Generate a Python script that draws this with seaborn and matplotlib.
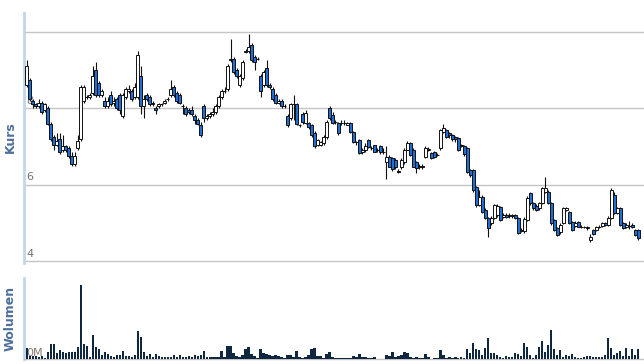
import matplotlib
matplotlib.use("Agg")
import matplotlib.pyplot as plt
import matplotlib.transforms as mtransforms
import numpy as np
import pandas as pd
import seaborn as sns

# ---------------- data ----------------
opens = [
    8.6, 8.75, 8.2, 8.1, 8.05, 8.15, 7.95, 8.0, 7.6, 7.25,
    7.05, 7.2, 6.9, 7.0, 6.95, 6.75, 6.55, 6.95, 7.2, 8.2,
    8.3, 8.3, 8.4, 9.0, 8.65, 8.35, 8.2, 8.05, 8.35, 8.15,
    8.25, 8.35, 7.8, 8.3, 8.45, 8.45, 8.3, 8.3, 8.85, 8.05,
    8.35, 8.3, 8.1, 8.0, 8.05, 8.1, 8.15, 8.25, 8.35, 8.55,
    8.4, 8.35, 8.05, 8.0, 7.95, 7.95, 7.8, 7.7, 7.55, 8.05,
    7.75, 7.8, 7.85, 7.9, 8.05, 8.3, 8.45, 8.5, 9.25, 9.3,
    9.0, 8.6, 8.8, 9.48, 9.5, 9.65, 9.35, 9.3, 8.85, 8.6,
    9.05, 8.6, 8.5, 8.35, 8.15, 8.2, 8.05, 7.8, 7.75, 8.1,
    8.1, 7.57, 7.85, 7.62, 7.62, 7.55, 7.35, 7.04, 7.05, 7.1,
    7.25, 8.0, 7.83, 7.64, 7.62, 7.62, 7.62, 7.57, 7.62, 7.38,
    7.12, 7.17, 6.85, 6.9, 7.17, 6.96, 7.04, 6.91, 7.0, 6.86,
    6.6, 6.73, 6.7, 6.65, 6.35, 6.45, 6.6, 6.91, 7.09, 6.91,
    6.6, 6.47, 6.5, 6.73, 6.9, 6.83, 6.85, 6.78, 6.96, 7.38,
    7.43, 7.35, 7.3, 7.25, 7.22, 7.04, 7.0, 6.96, 6.38, 6.39,
    5.94, 5.47, 5.68, 5.34, 5.13, 5.0, 5.13, 5.2, 5.42, 5.15,
    5.21, 5.2, 5.18, 5.2, 5.13, 4.8, 4.78, 5.08, 5.79, 5.52,
    5.45, 5.39, 5.52, 5.8, 5.81, 5.52, 5.08, 4.87, 4.75, 5.0,
    5.35, 5.29, 5.03, 4.92, 5.03, 4.9, 4.9, 4.88, 4.55, 4.82,
    4.82, 4.9, 4.92, 5.0, 4.95, 5.13, 5.73, 5.26, 5.39, 5.0,
    4.9, 4.92, 4.95, 4.82, 4.82,
]
highs = [
    9.25, 8.8, 8.25, 8.15, 8.25, 8.2, 8.15, 8.05, 7.65, 7.3,
    7.35, 7.35, 7.3, 7.05, 7.0, 6.85, 6.85, 7.3, 8.6, 8.6,
    8.35, 8.4, 9.1, 9.2, 8.7, 8.5, 8.3, 8.3, 8.45, 8.3,
    8.3, 8.4, 8.4, 8.55, 8.6, 8.5, 8.65, 9.5, 9.1, 8.35,
    8.4, 8.35, 8.2, 8.05, 8.15, 8.15, 8.25, 8.3, 8.75, 8.6,
    8.45, 8.4, 8.1, 8.05, 8.0, 8.05, 7.85, 7.75, 7.65, 8.1,
    7.85, 7.9, 8.0, 8.1, 8.35, 8.5, 8.55, 9.15, 9.8, 9.35,
    9.05, 8.9, 9.25, 9.55, 9.95, 9.7, 9.4, 9.35, 8.9, 9.0,
    9.27, 8.65, 8.55, 8.4, 8.25, 8.25, 8.1, 7.85, 8.15, 8.35,
    8.15, 7.6, 7.9, 7.95, 7.65, 7.6, 7.4, 7.2, 7.15, 7.3,
    7.7, 8.05, 7.9, 7.7, 7.65, 7.7, 7.7, 7.65, 7.65, 7.4,
    7.15, 7.2, 6.95, 7.1, 7.2, 7.0, 7.05, 6.95, 7.05, 6.95,
    7.0, 6.78, 6.72, 6.7, 6.4, 6.7, 6.95, 7.15, 7.12, 6.95,
    6.62, 6.55, 6.55, 7.0, 6.98, 6.85, 6.88, 6.82, 7.45, 7.59,
    7.46, 7.38, 7.33, 7.28, 7.25, 7.06, 7.05, 6.98, 6.42, 6.42,
    5.97, 5.85, 5.72, 5.38, 5.16, 5.18, 5.5, 5.5, 5.45, 5.25,
    5.25, 5.25, 5.24, 5.24, 5.16, 4.86, 5.15, 5.7, 5.82, 5.55,
    5.5, 5.55, 5.95, 6.2, 5.85, 5.55, 5.1, 4.9, 5.0, 5.42,
    5.42, 5.32, 5.05, 5.05, 5.06, 4.95, 4.93, 4.92, 4.7, 4.85,
    4.93, 4.95, 5.03, 5.03, 5.18, 5.92, 5.8, 5.42, 5.42, 5.02,
    5.0, 5.05, 5.0, 4.85, 4.85,
]
lows = [
    8.55, 8.2, 8.0, 8.0, 8.0, 7.85, 7.9, 7.55, 7.15, 6.9,
    7.0, 6.8, 6.85, 6.85, 6.7, 6.5, 6.5, 6.9, 7.15, 8.15,
    8.25, 8.25, 8.35, 8.3, 8.3, 8.3, 8.0, 8.0, 8.05, 8.05,
    7.95, 7.85, 7.75, 8.25, 8.4, 8.2, 8.25, 8.25, 7.85, 7.75,
    8.2, 8.05, 8.05, 7.85, 8.0, 8.05, 8.1, 8.2, 8.3, 8.3,
    8.15, 8.1, 7.85, 7.8, 7.85, 7.8, 7.6, 7.55, 7.25, 7.65,
    7.7, 7.75, 7.8, 7.85, 8.0, 8.25, 8.4, 8.45, 9.2, 8.9,
    8.8, 8.55, 8.75, 9.45, 9.45, 9.2, 9.0, 9.25, 8.3, 8.55,
    8.55, 8.5, 8.2, 8.1, 8.1, 8.0, 8.0, 7.5, 7.7, 7.7,
    7.55, 7.5, 7.6, 7.6, 7.45, 7.25, 6.95, 7.0, 7.0, 7.05,
    7.2, 7.7, 7.6, 7.6, 7.3, 7.55, 7.55, 7.55, 7.35, 7.1,
    7.05, 6.8, 6.8, 6.85, 6.95, 6.9, 6.85, 6.85, 6.8, 6.8,
    6.15, 6.45, 6.35, 6.4, 6.3, 6.4, 6.55, 6.9, 6.75, 6.45,
    6.31, 6.42, 6.42, 6.7, 6.88, 6.68, 6.7, 6.74, 6.92, 7.35,
    7.22, 7.22, 7.15, 7.12, 6.88, 6.98, 6.75, 6.3, 6.2, 5.8,
    5.42, 5.44, 5.25, 5.1, 4.63, 4.95, 5.1, 5.15, 5.05, 5.12,
    5.12, 5.12, 5.13, 5.1, 4.7, 4.76, 4.74, 5.05, 5.48, 5.35,
    5.3, 5.35, 5.5, 5.78, 5.5, 4.95, 4.8, 4.65, 4.72, 4.98,
    5.3, 4.98, 4.8, 4.9, 4.88, 4.86, 4.87, 4.82, 4.5, 4.68,
    4.8, 4.87, 4.9, 4.93, 4.93, 5.1, 5.22, 5.22, 4.92, 4.85,
    4.87, 4.85, 4.87, 4.66, 4.55,
]
closes = [
    9.1, 8.25, 8.1, 8.05, 8.15, 7.9, 8.1, 7.6, 7.2, 7.05,
    7.15, 6.85, 7.0, 6.9, 6.75, 6.55, 6.75, 7.15, 8.55, 8.55,
    8.3, 8.35, 8.85, 8.35, 8.35, 8.45, 8.05, 8.2, 8.1, 8.2,
    8.0, 7.95, 8.35, 8.5, 8.5, 8.25, 8.55, 9.4, 8.05, 8.25,
    8.25, 8.1, 8.15, 7.95, 8.1, 8.1, 8.2, 8.25, 8.5, 8.35,
    8.2, 8.15, 8.05, 7.85, 7.9, 7.85, 7.7, 7.6, 7.3, 7.75,
    7.8, 7.85, 7.9, 8.05, 8.3, 8.45, 8.45, 9.1, 9.3, 8.95,
    8.85, 8.85, 9.2, 9.5, 9.6, 9.25, 9.2, 9.3, 8.45, 8.95,
    8.6, 8.55, 8.25, 8.15, 8.2, 8.05, 8.05, 7.55, 8.1, 8.1,
    7.6, 7.57, 7.65, 7.88, 7.5, 7.3, 7.0, 7.17, 7.12, 7.25,
    7.65, 7.75, 7.62, 7.64, 7.36, 7.62, 7.62, 7.62, 7.38, 7.12,
    7.12, 6.83, 6.9, 7.0, 6.99, 6.96, 6.86, 6.91, 6.86, 6.86,
    6.73, 6.47, 6.4, 6.45, 6.33, 6.65, 6.91, 7.09, 6.78, 6.47,
    6.44, 6.5, 6.47, 6.96, 6.93, 6.7, 6.72, 6.78, 7.43, 7.49,
    7.25, 7.3, 7.2, 7.2, 6.91, 7.02, 6.8, 6.33, 6.25, 5.86,
    5.47, 5.68, 5.29, 5.13, 4.87, 5.13, 5.47, 5.45, 5.08, 5.21,
    5.15, 5.18, 5.2, 5.13, 4.74, 4.82, 5.1, 5.65, 5.52, 5.39,
    5.35, 5.52, 5.92, 5.9, 5.52, 5.0, 4.82, 4.69, 4.95, 5.39,
    5.39, 5.0, 4.82, 5.0, 4.9, 4.9, 4.9, 4.87, 4.63, 4.7,
    4.9, 4.9, 5.0, 4.95, 5.13, 5.86, 5.26, 5.39, 4.95, 4.87,
    4.95, 4.92, 4.9, 4.69, 4.6,
]
# volume in thousand shares
volumes = [
    106, 25, 20, 25, 10, 25, 5, 67, 140, 140,
    57, 83, 67, 57, 63, 63, 63, 113, 727, 140,
    120, 10, 230, 110, 93, 33, 63, 40, 23, 10,
    30, 30, 73, 23, 23, 10, 33, 270, 210, 63,
    23, 43, 10, 40, 23, 10, 10, 10, 10, 33,
    10, 33, 10, 10, 23, 10, 33, 23, 33, 73,
    10, 10, 10, 10, 17, 73, 17, 123, 123, 57,
    23, 17, 33, 93, 113, 43, 23, 7, 93, 57,
    43, 30, 27, 37, 27, 13, 7, 33, 33, 13,
    73, 13, 7, 13, 33, 93, 103, 20, 27, 7,
    43, 63, 13, 7, 7, 7, 7, 7, 7, 23,
    13, 43, 13, 13, 7, 7, 13, 0, 0, 0,
    33, 23, 63, 13, 23, 33, 63, 53, 13, 7,
    13, 7, 7, 43, 17, 0, 7, 7, 83, 33,
    7, 17, 7, 13, 7, 13, 7, 93, 53, 153,
    93, 87, 33, 103, 203, 53, 53, 33, 13, 7,
    23, 13, 13, 53, 43, 23, 153, 113, 33, 7,
    33, 113, 173, 63, 133, 283, 93, 33, 83, 13,
    33, 23, 43, 13, 3, 7, 13, 23, 23, 13,
    13, 13, 13, 33, 203, 103, 33, 53, 73, 23,
    103, 23, 93, 33, 93,
]
price_ticks = [4, 6, 8, 10]
price_labels = ["4", "6", "8", ""]
volume_label = "0M"
price_title = "Kurs"
volume_title = "Wolumen"

# ---------------- styling ----------------
UP_FILL = "#ffffff"
DOWN_FILL = "#1f6fd6"
EDGE = "#111111"
VOL_COLOR = "#0f2740"
GRID = "#c4c4c4"
AXIS_BLUE = "#c3d5ea"
LABEL_BLUE = "#4d6f9c"
TICK_GRAY = "#707070"

sns.set_style("white")
plt.rcParams["font.family"] = ["DejaVu Sans"]

n = len(closes)
df = pd.DataFrame({"i": np.arange(n), "open": opens, "high": highs,
                   "low": lows, "close": closes, "volume": volumes})
df["bottom"] = df[["open", "close"]].min(axis=1)
df["height"] = (df["close"] - df["open"]).abs()
df["fill"] = np.where(df["close"] >= df["open"], UP_FILL, DOWN_FILL)

fig = plt.figure(figsize=(6.44, 3.64), dpi=100)
W, H = 644.0, 364.0
x0, x1 = 24.0, 644.0
ax = fig.add_axes([x0 / W, (H - 263.0) / H, (x1 - x0) / W, (263.0 - 12.7) / H])
axv = fig.add_axes([x0 / W, (H - 358.5) / H, (x1 - x0) / W, (358.5 - 278.0) / H])

xlim = (-0.85, 205.85)

# ---- price panel ----
ax.vlines(df["i"], df["low"], df["high"], color=EDGE, linewidth=0.8, zorder=3)
ax.bar(df["i"], df["height"], bottom=df["bottom"], width=0.72,
       color=df["fill"], edgecolor=EDGE, linewidth=0.7, zorder=4)
ax.set_xlim(*xlim)
ax.set_ylim(3.95, 10.5)
ax.set_yticks(price_ticks)
ax.set_yticklabels([])
ax.set_xticks([])
ax.tick_params(length=0)
ax.grid(axis="y", color=GRID, linewidth=1.0, zorder=0)
ax.set_axisbelow(True)
for s in ["top", "right", "bottom"]:
    ax.spines[s].set_visible(False)
ax.spines["left"].set_color(AXIS_BLUE)
ax.spines["left"].set_linewidth(2.0)
trans = mtransforms.blended_transform_factory(ax.transAxes, ax.transData)
for t, lab in zip(price_ticks, price_labels):
    if lab:
        ax.text(0.004, t + 0.06, lab, transform=trans, ha="left", va="bottom",
                fontsize=8, color=TICK_GRAY, zorder=1)

# ---- volume panel ----
sns.barplot(data=df, x="i", y="volume", native_scale=True, color=VOL_COLOR,
            width=0.68, errorbar=None, ax=axv, zorder=3, saturation=1,
            linewidth=0)
for p in axv.patches:
    p.set_antialiased(False)
axv.set_xlim(*xlim)
axv.set_ylim(0, 800)
axv.set_xticks([])
axv.set_yticks([])
axv.set_xlabel("")
axv.set_ylabel("")
for s in ["top", "right"]:
    axv.spines[s].set_visible(False)
axv.spines["bottom"].set_color(GRID)
axv.spines["bottom"].set_linewidth(1.0)
axv.spines["left"].set_color(AXIS_BLUE)
axv.spines["left"].set_linewidth(2.0)
axv.text(0.004, 0.01, volume_label, transform=axv.transAxes, ha="left",
         va="bottom", fontsize=8, color="#85796d", zorder=2)

# ---- axis titles ----
fig.text(10 / W, 1 - 137 / H, price_title, rotation=90, ha="center",
         va="center", fontsize=9, fontweight="bold", color=LABEL_BLUE)
fig.text(10 / W, 1 - 318 / H, volume_title, rotation=90, ha="center",
         va="center", fontsize=9, fontweight="bold", color=LABEL_BLUE)

fig.savefig("out.png", dpi=100)
